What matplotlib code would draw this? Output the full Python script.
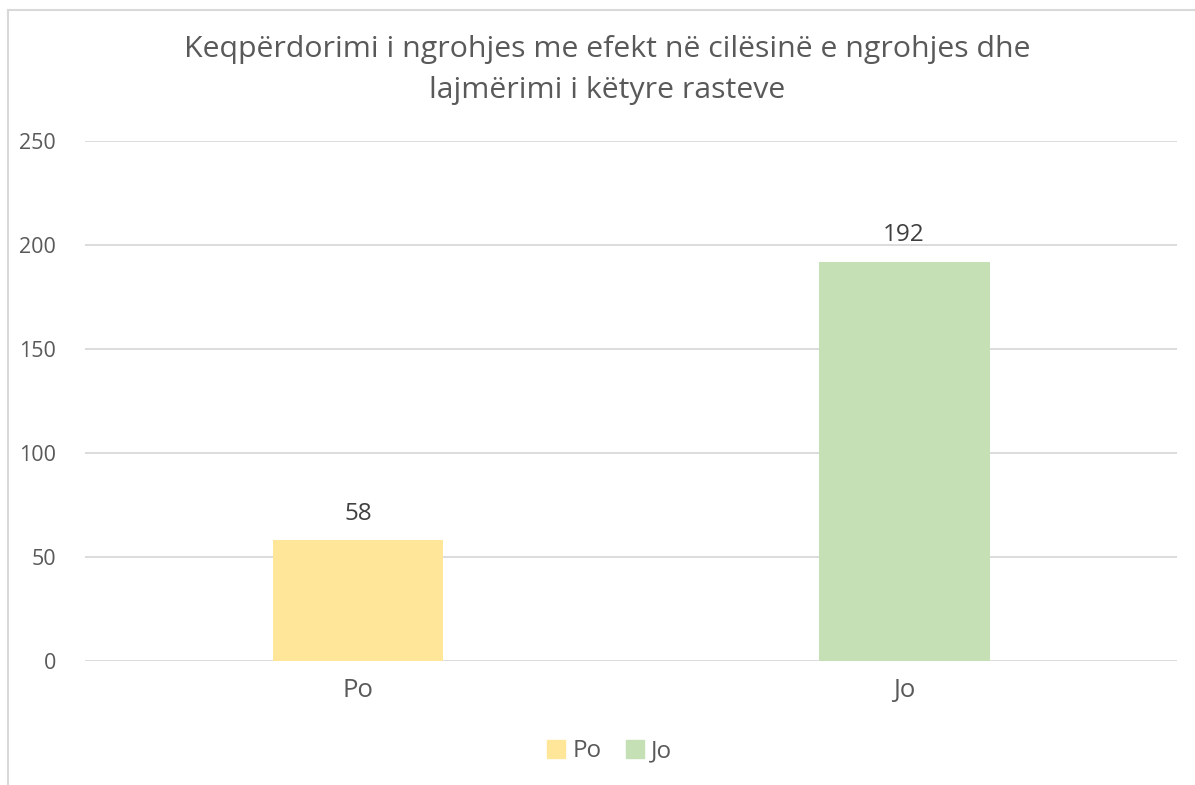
import numpy as np
from matplotlib import pyplot as plt
from matplotlib.patches import Patch

categories = ["Po", "Jo"]
values = [58, 192]
bar_colors = ["#FFE699", "#C5E0B4"]
y_ticks = [0, 50, 100, 150, 200, 250]
title = "Keqpërdorimi i ngrohjes me efekt në cilësinë e ngrohjes dhe\nlajmërimi i këtyre rasteve"

plt.rcParams['font.family'] = ['Open Sans', 'DejaVu Sans']
text_color = "#595959"

fig = plt.figure(figsize=(11.95, 7.85), dpi=100)
ax = fig.add_axes([0.0711, 0.158, 0.9139, 0.6624])

x = np.arange(len(categories))
bars = ax.bar(x, values, width=0.313, color=bar_colors, zorder=3)

for xi, v in zip(x, values):
    ax.text(xi, v + 7, str(v), ha="center", va="bottom", fontsize=17.5, color="#404040")

ax.set_xlim(-0.5, len(categories) - 0.5)
ax.set_ylim(0, 250)
ax.set_yticks(y_ticks)
ax.set_xticks(x)
ax.set_xticklabels(categories, fontsize=18.5)
ax.tick_params(axis="both", length=0, labelcolor=text_color)
ax.tick_params(axis="y", labelsize=15.5, pad=21)
ax.tick_params(axis="x", pad=12)
ax.grid(axis="y", color="#D9D9D9", linewidth=1.3, zorder=0)
for s in ax.spines.values():
    s.set_visible(False)

fig.text(0.508, 0.955, title, ha="center", va="top", fontsize=21.8, color=text_color,
         linespacing=1.55)

handles = [Patch(color=c, label=l) for c, l in zip(bar_colors, categories)]
fig.legend(handles=handles, loc="center", bbox_to_anchor=(0.51, 0.043), ncol=2,
           frameon=False, fontsize=17.5, handlelength=0.75, handleheight=0.75,
           handletextpad=0.3, columnspacing=1.0, labelcolor=text_color)

# chart border (left and top visible in the crop)
fig.add_artist(plt.Line2D([8 / 1195, 8 / 1195], [0, 1 - 10 / 785], color="#D9D9D9", linewidth=1.5))
fig.add_artist(plt.Line2D([8 / 1195, 1], [1 - 10 / 785, 1 - 10 / 785], color="#D9D9D9", linewidth=1.5))

fig.savefig("out.png", dpi=100)
